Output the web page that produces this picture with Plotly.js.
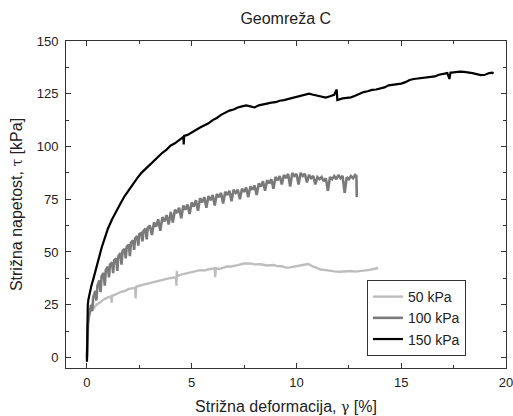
<!DOCTYPE html>
<html>
<head>
<meta charset="utf-8">
<script src="https://cdn.plot.ly/plotly-3.0.1.min.js"></script>
<style>html,body{margin:0;padding:0;background:#fff;}#chart{width:513px;height:416px;}</style>
</head>
<body>
<div id="chart"></div>
<script>
var seriesNames = ["50 kPa", "100 kPa", "150 kPa"];

var x50 = [0,0.01,0.03,0.08,0.15,0.3,0.45,0.62,0.8,1.0,1.16,1.18,1.2,1.4,1.6,1.8,2.0,2.3,2.32,2.35,2.5,2.7,2.9,3.1,3.3,3.49,3.7,3.9,4.1,4.25,4.27,4.29,4.31,4.5,4.8,5.1,5.4,5.6,5.8,6.1,6.12,6.15,6.3,6.5,6.7,6.83,7.0,7.2,7.4,7.5,7.78,8.0,8.3,8.6,8.9,9.1,9.3,9.5,9.69,9.9,10.1,10.3,10.57,10.7,10.8,11.0,11.13,11.4,11.6,11.8,12.08,12.3,12.6,12.8,13.04,13.3,13.5,13.75,13.9];
var y50 = [-2,8,14,19,21.5,23,25,26,27.5,28.5,29,26,29.2,30,31,31.5,32.5,33,28,33.5,33.8,34.5,35,35.5,36.3,36.7,37,37.5,37.8,38,34,41,38.5,39.3,40,40.8,41.4,41.2,41.8,42.2,38,42.3,42,42.5,43.2,43,43.5,43.8,44.3,44.5,44.6,44.1,44.2,43.6,43.8,43.3,43.2,42.6,42.7,43,43.2,43.8,44.3,43.6,43,42.4,41.7,41.4,41,40.8,40.6,40.9,41,40.7,41.1,41.3,41.5,42.2,42.4];

var x100 = [0,0.02,0.05,0.1,0.15,0.2,0.25,0.3,0.4,0.45,0.5,0.6,0.65,0.7,0.8,0.85,0.9,1.0,1.05,1.1,1.2,1.25,1.3,1.4,1.45,1.5,1.6,1.65,1.7,1.8,1.85,1.9,2.0,2.05,2.1,2.2,2.25,2.3,2.4,2.45,2.5,2.6,2.65,2.7,2.8,2.85,2.9,3.0,
  3.1,3.2,3.3,3.4,3.5,3.6,3.7,3.8,3.9,4.0,
  4.1,4.2,4.3,4.4,4.5,4.6,4.7,4.8,4.9,5.0,
  5.1,5.2,5.3,5.4,5.5,5.6,5.7,5.8,5.9,6.0,
  6.1,6.2,6.3,6.4,6.5,6.6,6.7,6.8,6.9,7.0,
  7.1,7.2,7.3,7.4,7.5,7.6,7.7,7.8,7.9,8.0,
  8.1,8.2,8.3,8.4,8.5,8.6,8.7,8.8,8.9,9.0,
  9.1,9.2,9.3,9.4,9.5,9.6,9.7,9.8,9.9,10.0,
  10.1,10.2,10.3,10.4,10.5,10.6,10.7,10.8,10.9,11.0,
  11.1,11.2,11.3,11.4,11.5,11.6,11.7,11.8,11.9,12.0,
  12.1,12.2,12.3,12.4,12.5,12.6,12.7,12.8,12.86,12.88];
var y100 = [0,10,16,20,22,25,22,28.5,31.5,27,34,36.5,31,38.5,40,34,41.5,43,38,44,45,40,46,47,41,48,49.5,44,50.5,51.5,47,52.5,53.5,48,54.5,55.5,51,56.5,57.5,53,58.5,59,55,60,61,56,61.5,62.5,
  58,64,62,65.5,60,66.5,64.5,67.5,63,69,
  64,70,68.5,71,66,72,70,72.5,68,73.5,
  71.5,74.5,69.5,75.5,73.5,76,71,76.5,74.5,77,
  72,77.5,76,78,73,78.5,77,79,74,79.5,
  78,79.5,75,80,78.5,80.5,76,81,79.5,81.5,
  77,82.5,81,83.5,79,84,82.5,84.5,80,85.5,
  84,86,82,86.5,85,87,81,87.5,86,87,
  82,87.5,86,87,83,86.5,85,86,82,85.5,
  84.5,85.5,83.5,85,79,85.5,84.5,86,84.5,86.5,
  85,86,78,85.5,84.5,86,85,86.5,86,76];

var x150 = [0,0.005,0.01,0.02,0.04,0.07,0.1,0.15,0.2,0.3,0.4,0.5,0.6,0.7,0.8,0.9,1.0,1.2,1.4,1.6,1.8,2.0,2.2,2.4,2.6,2.8,3.0,3.2,3.4,3.6,3.8,4.0,4.2,4.4,4.6,4.62,4.64,4.8,5.0,5.2,5.4,5.6,5.8,6.0,6.2,6.4,6.6,6.8,7.0,7.2,7.4,7.6,7.8,8.0,8.2,8.4,8.6,8.8,9.0,9.2,9.4,9.6,9.8,10.0,10.2,10.4,10.6,10.8,11.0,11.2,11.4,11.6,11.8,11.92,11.95,12.2,12.4,12.6,12.8,13.0,13.2,13.4,13.6,13.8,14.0,14.2,14.4,14.6,14.8,15.0,15.2,15.4,15.6,15.8,16.0,16.2,16.4,16.6,16.8,17.0,17.2,17.3,17.35,17.4,17.6,17.8,18.0,18.2,18.4,18.6,18.8,19.0,19.2,19.35,19.4];
var y150 = [-2,5,12,21,25,27.5,29,31.5,33.5,37,41,45,48.5,52,55,58,61,65.5,69.5,73,76.5,79.5,82.5,85,87.5,89.5,91.5,93.5,95.5,97,98.5,100.5,101.5,103,104.5,101,105,105.5,106.5,107.8,109,110,111,112.5,113.5,115,116,117,117.5,118.5,119,119.5,119,118.5,119.5,120,120.3,120.8,121,121.7,122,122.5,123,123.3,123.8,124.5,125,124.5,124,123.5,123.2,123.8,124.5,127,122,122.8,123,123.3,124,125,125.8,126.2,126.8,127,127.5,128,129,129.3,129.3,129.8,130.5,131.5,132,132.3,132.5,132.7,133,133.2,134,134.5,134.8,132,135,135,135.3,135.5,135.4,135.2,134.8,134.3,133.8,134,134.8,135,134.5];

var xTickVals = [0, 5, 10, 15, 20];
var yTickVals = [0, 25, 50, 75, 100, 125, 150];

var font = "Arial, 'Liberation Sans', sans-serif";
var traces = [
  {x: x50, y: y50, name: seriesNames[0], mode: "lines", line: {color: "#bdbdbd", width: 2.4}},
  {x: x100, y: y100, name: seriesNames[1], mode: "lines", line: {color: "#7a7a7a", width: 2.6}},
  {x: x150, y: y150, name: seriesNames[2], mode: "lines", line: {color: "#000000", width: 2.2}}
];

var axisCommon = {
  showline: true, linecolor: "#333", linewidth: 1, mirror: "ticks",
  ticks: "inside", ticklen: 5, tickwidth: 1, tickcolor: "#333",
  showgrid: false, zeroline: false, ticklabeloverflow: "allow",
  tickfont: {family: font, size: 13, color: "#222"}
};

var layout = {
  width: 513, height: 416,
  margin: {l: 66, r: 7, t: 41, b: 48},
  paper_bgcolor: "#fff", plot_bgcolor: "#fff",
  font: {family: font, color: "#222"},
  title: {text: "Geomreža C", font: {family: font, size: 16, color: "#222"}, x: 0.557, xanchor: "center", y: 0.955, yanchor: "middle"},
  xaxis: Object.assign({}, axisCommon, {
    range: [-1, 20], tickvals: xTickVals, ticktext: xTickVals.map(String),
    minor: {ticks: "inside", ticklen: 3, tickcolor: "#333", dtick: 2.5, tick0: 0},
    ticklabelstandoff: 2,
    title: {text: "Strižna deformacija, <span style=\"font-family:'DejaVu Serif',serif;font-size:14px\">γ</span> [%]", font: {family: font, size: 16, color: "#222"}, standoff: 12}
  }),
  yaxis: Object.assign({}, axisCommon, {
    range: [-5, 150], tickvals: yTickVals, ticktext: yTickVals.map(String),
    minor: {ticks: "inside", ticklen: 3, tickcolor: "#333", dtick: 12.5, tick0: 0},
    ticklabelstandoff: 4,
    title: {text: "Strižna napetost, <span style=\"font-family:'DejaVu Serif',serif;font-size:14px\">τ</span> [kPa]", font: {family: font, size: 16, color: "#222"}, standoff: 10}
  }),
  showlegend: true,
  legend: {
    x: 0.684, y: 0.269, xanchor: "left", yanchor: "top",
    bgcolor: "#fff", bordercolor: "#333", borderwidth: 1,
    font: {family: font, size: 14, color: "#222"},
    tracegroupgap: 0, itemwidth: 30, entrywidth: 72, entrywidthmode: "pixels"
  }
};

Plotly.newPlot("chart", traces, layout, {staticPlot: true, displayModeBar: false});
</script>
</body>
</html>
